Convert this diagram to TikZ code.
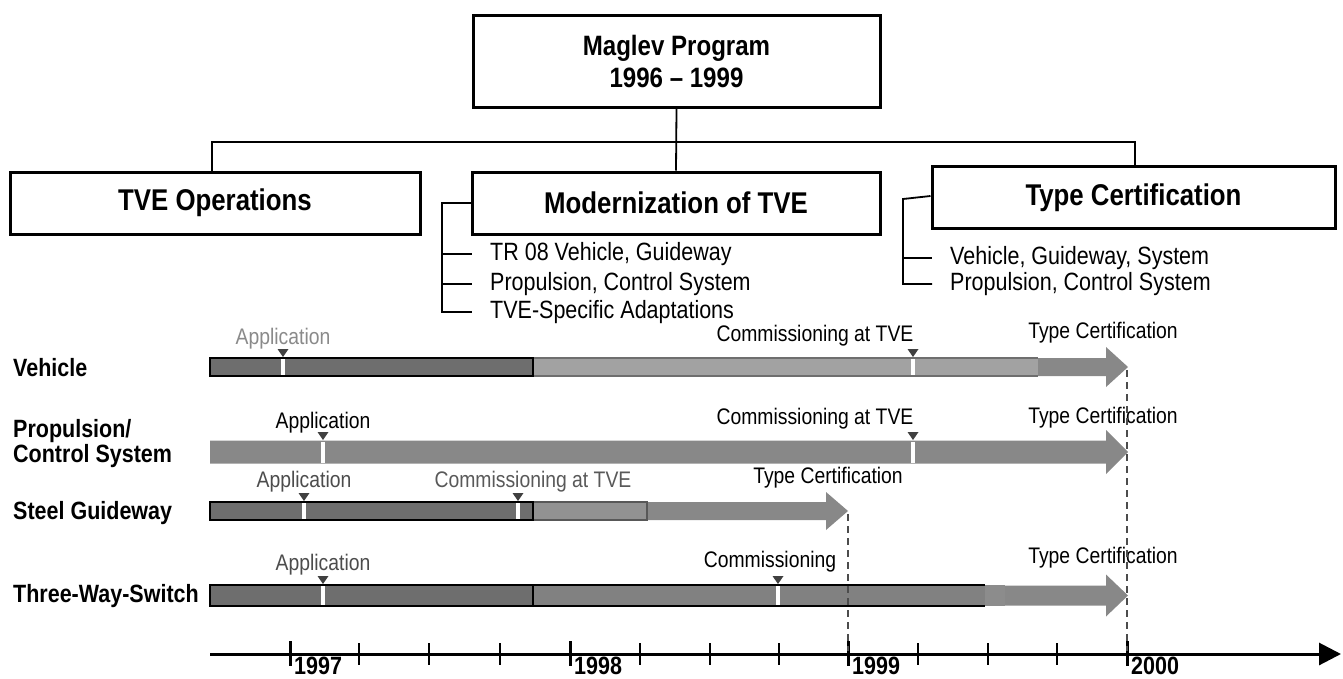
\documentclass[tikz,border=0pt]{standalone}
\usepackage{fontspec}
\setmainfont[FakeStretch=0.86]{Liberation Sans}
\usetikzlibrary{arrows.meta}
\definecolor{bardark}{HTML}{6E6E6E}
\definecolor{barlight}{HTML}{A2A2A2}
\definecolor{barmid}{HTML}{888888}
\definecolor{labgray}{HTML}{8A8A8A}
\newcommand\ganttarrow[6]{% x-start, x-tip, y-center, shaft half, head half, head length
  \fill[barmid] ({#1},{#3-#4}) -- ({#2-#6},{#3-#4}) -- ({#2-#6},{#3-#5}) -- ({#2},{#3})
    -- ({#2-#6},{#3+#5}) -- ({#2-#6},{#3+#4}) -- ({#1},{#3+#4}) -- cycle;}
\newcommand\ganttmark[3]{% x, bar top, bar bottom
  \fill[white] ({#1-2.2},{#2+1}) rectangle ({#1+2.2},{#3-1});
  \fill[black!75] ({#1-5.5},{#2-9}) -- ({#1+5.5},{#2-9}) -- ({#1},{#2-1}) -- cycle;}
\begin{document}
\begin{tikzpicture}[x=1pt,y=-1pt,
  box/.style={draw,line width=3pt,minimum height=62pt,inner sep=0pt,font=\fontsize{30}{34}\selectfont\bfseries},
  conn/.style={line width=1.8pt},
  subitem/.style={anchor=west,inner sep=0pt,font=\fontsize{25}{28}\selectfont},
  rowlab/.style={anchor=west,inner sep=0pt,align=left,font=\fontsize{25}{25}\selectfont\bfseries},
  evlab/.style={anchor=south,inner sep=0pt,font=\fontsize{22.5}{25}\selectfont},
  yearlab/.style={anchor=north west,inner sep=0pt,font=\fontsize{25}{28}\selectfont\bfseries},
  dashconn/.style={black!70,line width=1.6pt,dash pattern=on 7pt off 5pt},
]
\useasboundingbox (0,0) rectangle (1343,678);

% ---------- organisation chart ----------
\node[box,minimum width=407pt,minimum height=92pt,align=center,font=\fontsize{28}{32}\selectfont\bfseries] (top) at (676.5,61) {Maglev Program\\1996 -- 1999};
\node[box,minimum width=410pt] (ops) at (215,203) {TVE Operations};
\node[box,minimum width=408pt] (mod) at (676,203) {Modernization of TVE};
\node[box,minimum width=403pt] (cert) at (1133.5,197.5) {Type Certification};

\coordinate (hl) at (212,142);
\coordinate (hr) at (1135,142);
\draw[conn] (top.south) -- (mod.north);
\draw[conn] (ops.north -| hl) -- (hl) -- (hr) -- (cert.north -| hr);

% sub items of Modernization
\node[subitem] (m1) at (490,254) {TR 08 Vehicle, Guideway};
\node[subitem] (m2) at (490,284) {Propulsion, Control System};
\node[subitem] (m3) at (490,312) {TVE-Specific Adaptations};
\coordinate (mb) at (442,203);
\draw[conn] (mod.west) -- (mb) -- (mb |- m3.west) -- ([xshift=-18pt]m3.west);
\draw[conn] (mb |- m1.west) -- ([xshift=-18pt]m1.west);
\draw[conn] (mb |- m2.west) -- ([xshift=-18pt]m2.west);

% sub items of Type Certification
\node[subitem] (c1) at (950,258) {Vehicle, Guideway, System};
\node[subitem] (c2) at (950,284) {Propulsion, Control System};
\coordinate (cb) at (903,199);
\draw[conn] ([yshift=1.5pt]cert.west) -- (cb) -- (cb |- c2.west) -- ([xshift=-18pt]c2.west);
\draw[conn] (cb |- c1.west) -- ([xshift=-18pt]c1.west);

% ---------- row labels ----------
\node[rowlab] (rv) at (13,368) {Vehicle};
\node[rowlab] (rp) at (13,444) {Propulsion/\\Control System};
\node[rowlab] (rs) at (13,513) {Steel Guideway};
\node[rowlab] (rt) at (13,596) {Three-Way-Switch};

% ---------- Vehicle ----------
\ganttarrow{1030}{1128}{367}{9}{20}{22}
\fill[barlight] (533,358) rectangle (1038,376);
\draw[bardark,line width=1.2pt] (533,358) -- (1038,358) (533,376) -- (1038,376);
\fill[bardark] (210,358) rectangle (533,376);
\draw[line width=1.2pt] (210,358) rectangle (533,376);
\ganttmark{283}{358}{376}
\ganttmark{913}{358}{376}
\node[evlab,text=labgray] (v1) at (283,349) {Application};
\node[evlab] (v2) at (815,346) {Commissioning at TVE};
\node[evlab] (v3) at (1103,343) {Type Certification};

% ---------- Propulsion ----------
\ganttarrow{210}{1128}{452}{11.5}{22}{22}
\ganttmark{323}{441}{464}
\ganttmark{913}{441}{464}
\node[evlab] (p1) at (323,433) {Application};
\node[evlab] (p2) at (815,429) {Commissioning at TVE};
\node[evlab] (p3) at (1103,428) {Type Certification};

% ---------- Steel Guideway ----------
\ganttarrow{640}{848}{511}{9}{19}{22}
\fill[barlight!90!black] (533,502) rectangle (647,520);
\draw[bardark!80!black,line width=1.2pt] (533,502) rectangle (647,520);
\fill[bardark] (210,502) rectangle (533,520);
\draw[line width=1.2pt] (210,502) rectangle (533,520);
\ganttmark{304}{502}{520}
\ganttmark{518}{502}{520}
\node[evlab,text=black!70] (s1) at (304,492) {Application};
\node[evlab,text=black!65] (s2) at (533,492) {Commissioning at TVE};
\node[evlab] (s3) at (828,488) {Type Certification};

% ---------- Three-Way-Switch ----------
\ganttarrow{1000}{1128}{595.5}{10}{21}{22}
\fill[barmid!95!black] (533,585) rectangle (985,606);
\draw[line width=1.1pt] (533,585) -- (985,585) (533,606) -- (985,606);
\fill[black!45] (985,585) rectangle (1005,606);
\fill[bardark] (210,585) rectangle (533,606);
\draw[line width=1.2pt] (210,585) rectangle (533,606);
\ganttmark{323}{585}{606}
\ganttmark{778}{585}{606}
\node[evlab,text=black!70] (t1) at (323,575) {Application};
\node[evlab] (t2) at (770,572) {Commissioning};
\node[evlab] (t3) at (1103,568) {Type Certification};

% ---------- time axis ----------
\coordinate (ax0) at (210,654);
\coordinate (ax1) at (1341,654);
\draw[line width=3pt,-{Triangle[length=22pt,width=22pt]}] (ax0) -- (ax1);
\foreach \x in {359,429,500,640,710,779,918,988,1057}
  \draw[line width=1.5pt] (\x,643) -- (\x,665);
\foreach \x/\y in {290/1997,570/1998,848/1999,1127/2000}{
  \draw[line width=3pt] (\x,641) -- (\x,666);
  \node[yearlab] (y\y) at (\x+4,657) {\y};
}

% ---------- dashed guides ----------
\coordinate (d1a) at (1127,370);
\coordinate (d1b) at (1127,651);
\coordinate (d2a) at (848,514);
\coordinate (d2b) at (848,651);
\draw[dashconn] (d1a) -- (d1b);
\draw[dashconn] (d2a) -- (d2b);
\end{tikzpicture}
\end{document}
